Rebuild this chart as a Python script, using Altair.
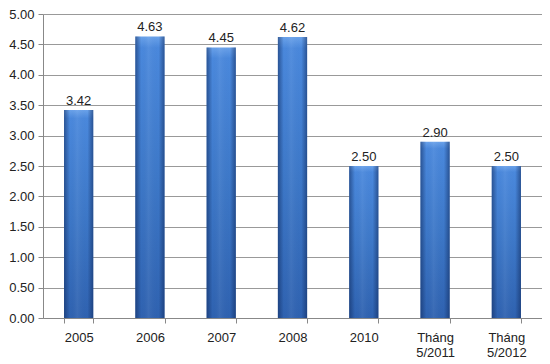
import altair as alt
import pandas as pd

categories = ["2005", "2006", "2007", "2008", "2010", "Tháng\n5/2011", "Tháng\n5/2012"]
values = [3.42, 4.63, 4.45, 4.62, 2.50, 2.90, 2.50]
y_ticks = [0.0, 0.5, 1.0, 1.5, 2.0, 2.5, 3.0, 3.5, 4.0, 4.5, 5.0]

df = pd.DataFrame({"cat": categories, "val": values})
df["lbl"] = df["val"].map(lambda v: f"{v:.2f}")

FONT = "Liberation Sans"

x = alt.X("cat:N", sort=categories, title=None,
          scale=alt.Scale(paddingInner=0.59, paddingOuter=0.295),
          axis=alt.Axis(labelAngle=0, labelExpr="split(datum.label, '\\n')",
                        tickBand="extent", tickSize=5, domainColor="#888", tickColor="#888",
                        labelFont=FONT, labelFontSize=13, labelColor="#222", labelPadding=8,
                        labelLineHeight=15, grid=False))
y = alt.Y("val:Q", title=None,
          scale=alt.Scale(domain=[0, 5], nice=False),
          axis=alt.Axis(values=y_ticks, format=".2f", labelOverlap=False,
                        labelFont=FONT, labelFontSize=13, labelColor="#222",
                        gridColor="#999", gridWidth=1, domainColor="#888", tickColor="#888",
                        tickSize=5, labelPadding=4))

vgrad = alt.Gradient(
    gradient="linear", x1=0, x2=0, y1=0, y2=1,
    stops=[alt.GradientStop(color="#6aa2ea", offset=0),
           alt.GradientStop(color="#4a88dc", offset=0.04),
           alt.GradientStop(color="#3d78c8", offset=0.5),
           alt.GradientStop(color="#2f62b0", offset=1)])

hgrad = alt.Gradient(
    gradient="linear", x1=0, x2=1, y1=0, y2=0,
    stops=[alt.GradientStop(color="rgba(15,40,90,0.55)", offset=0),
           alt.GradientStop(color="rgba(15,40,90,0.0)", offset=0.2),
           alt.GradientStop(color="rgba(255,255,255,0.06)", offset=0.45),
           alt.GradientStop(color="rgba(15,40,90,0.0)", offset=0.8),
           alt.GradientStop(color="rgba(15,40,90,0.55)", offset=1)])

base = alt.Chart(df).encode(x=x, y=y)
bars = base.mark_bar(fill=vgrad)
shade = base.mark_bar(fill=hgrad)
text = base.mark_text(dy=-9, font=FONT, fontSize=13, color="#222").encode(text="lbl:N")

chart = (bars + shade + text).properties(
    width=499, height=304,
    padding={"left": 35, "top": 6, "right": 0, "bottom": 46},
    autosize=alt.AutoSizeParams(type="none"),
).configure_view(stroke=None)

chart.save("out.html", embed_options={"renderer": "svg", "actions": False})
